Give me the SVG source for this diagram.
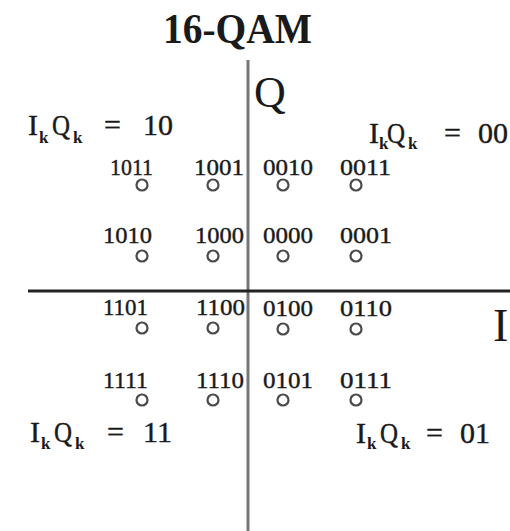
<svg xmlns="http://www.w3.org/2000/svg" width="510" height="531" viewBox="0 0 510 531">
<style>
text{font-family:"Liberation Serif","Times New Roman",serif;fill:#1a1a1a}
.lbl{font-size:24px;stroke:#1a1a1a;stroke-width:0.4}
.q{font-size:30px;stroke:#1a1a1a;stroke-width:0.4}
.sub{font-size:17px;font-weight:bold}
.pt{fill:none;stroke:#4a4a4a;stroke-width:2.2}
.ax{fill:none}
</style>
<rect width="510" height="531" fill="#fff"/>
<text x="163" y="43" font-size="42" font-weight="bold" textLength="149" lengthAdjust="spacingAndGlyphs">16-QAM</text>
<g id="connectors">
<line class="ax" x1="248" y1="60" x2="248" y2="531" stroke-width="3" stroke="#777"/>
<line class="ax" x1="28" y1="291" x2="510" y2="291" stroke-width="3" stroke="#222"/>
</g>
<g id="axis-labels">
<text x="254" y="107" font-size="44">Q</text>
<text x="493" y="341" font-size="46">I</text>
</g>
<g id="q10">
<text class="q" x="28" y="135">I</text><text class="sub" x="39" y="143">k</text>
<text class="q" x="52" y="135" textLength="18" lengthAdjust="spacingAndGlyphs">Q</text><text class="sub" x="73" y="143">k</text>
<text class="q" x="104" y="135">=</text><text class="q" x="143" y="135">10</text>
</g>
<g id="q00">
<text class="q" x="369" y="143">I</text><text class="sub" x="379" y="149">k</text>
<text class="q" x="387" y="143" textLength="18" lengthAdjust="spacingAndGlyphs">Q</text><text class="sub" x="408" y="149">k</text>
<text class="q" x="444" y="143">=</text><text class="q" x="478" y="143">00</text>
</g>
<g id="q11">
<text class="q" x="30" y="442">I</text><text class="sub" x="41" y="449">k</text>
<text class="q" x="54" y="442" textLength="18" lengthAdjust="spacingAndGlyphs">Q</text><text class="sub" x="75" y="449">k</text>
<text class="q" x="107" y="442">=</text><text class="q" x="143" y="442">11</text>
</g>
<g id="q01">
<text class="q" x="356" y="443">I</text><text class="sub" x="367" y="449">k</text>
<text class="q" x="380" y="443" textLength="18" lengthAdjust="spacingAndGlyphs">Q</text><text class="sub" x="401" y="449">k</text>
<text class="q" x="426" y="443">=</text><text class="q" x="460" y="443">01</text>
</g>
<g id="p1011"><text class="lbl" x="110" y="175" textLength="43" lengthAdjust="spacingAndGlyphs">1011</text><circle class="pt" cx="142" cy="185" r="5.5"/></g>
<g id="p1001"><text class="lbl" x="194" y="175" textLength="50" lengthAdjust="spacingAndGlyphs">1001</text><circle class="pt" cx="213" cy="185" r="5.5"/></g>
<g id="p0010"><text class="lbl" x="263" y="175" textLength="50" lengthAdjust="spacingAndGlyphs">0010</text><circle class="pt" cx="283" cy="185" r="5.5"/></g>
<g id="p0011"><text class="lbl" x="340" y="175" textLength="51" lengthAdjust="spacingAndGlyphs">0011</text><circle class="pt" cx="356" cy="185" r="5.5"/></g>
<g id="p1010"><text class="lbl" x="103" y="243" textLength="49" lengthAdjust="spacingAndGlyphs">1010</text><circle class="pt" cx="142" cy="256" r="5.5"/></g>
<g id="p1000"><text class="lbl" x="195" y="243" textLength="49" lengthAdjust="spacingAndGlyphs">1000</text><circle class="pt" cx="213" cy="256" r="5.5"/></g>
<g id="p0000"><text class="lbl" x="263" y="243" textLength="50" lengthAdjust="spacingAndGlyphs">0000</text><circle class="pt" cx="283" cy="256" r="5.5"/></g>
<g id="p0001"><text class="lbl" x="340" y="243" textLength="52" lengthAdjust="spacingAndGlyphs">0001</text><circle class="pt" cx="356" cy="256" r="5.5"/></g>
<g id="p1101"><text class="lbl" x="103" y="315" textLength="45" lengthAdjust="spacingAndGlyphs">1101</text><circle class="pt" cx="142" cy="328" r="5.5"/></g>
<g id="p1100"><text class="lbl" x="196" y="315" textLength="49" lengthAdjust="spacingAndGlyphs">1100</text><circle class="pt" cx="213" cy="328" r="5.5"/></g>
<g id="p0100"><text class="lbl" x="263" y="316" textLength="50" lengthAdjust="spacingAndGlyphs">0100</text><circle class="pt" cx="283" cy="329" r="5.5"/></g>
<g id="p0110"><text class="lbl" x="340" y="316" textLength="52" lengthAdjust="spacingAndGlyphs">0110</text><circle class="pt" cx="356" cy="329" r="5.5"/></g>
<g id="p1111"><text class="lbl" x="103" y="388" textLength="45" lengthAdjust="spacingAndGlyphs">1111</text><circle class="pt" cx="142" cy="400" r="5.5"/></g>
<g id="p1110"><text class="lbl" x="196" y="388" textLength="48" lengthAdjust="spacingAndGlyphs">1110</text><circle class="pt" cx="213" cy="400" r="5.5"/></g>
<g id="p0101"><text class="lbl" x="263" y="388" textLength="50" lengthAdjust="spacingAndGlyphs">0101</text><circle class="pt" cx="283" cy="400" r="5.5"/></g>
<g id="p0111"><text class="lbl" x="340" y="388" textLength="52" lengthAdjust="spacingAndGlyphs">0111</text><circle class="pt" cx="356" cy="400" r="5.5"/></g>
</svg>
